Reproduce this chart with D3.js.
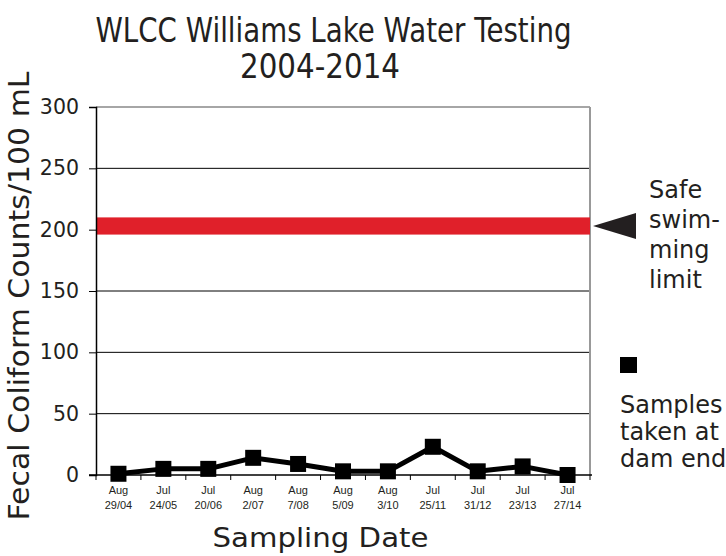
<!DOCTYPE html>
<html><head><meta charset="utf-8">
<script src="https://cdn.jsdelivr.net/npm/d3@7"></script>
<style>body{margin:0;background:#fff}svg{display:block}</style>
</head><body>
<script>
const dateMonths = ["Aug","Jul","Jul","Aug","Aug","Aug","Aug","Jul","Jul","Jul","Jul"];
const dateDays = ["29/04","24/05","20/06","2/07","7/08","5/09","3/10","25/11","31/12","23/13","27/14"];
const counts = [1, 5, 5, 14, 9, 3, 3, 23, 3, 7, 0];
const yTicks = [0, 50, 100, 150, 200, 250, 300];
const safeLimit = [196, 210];

const W = 726, H = 556;
const m = {left: 96, right: 136, top: 107, bottom: 81};
const svg = d3.select("body").append("svg").attr("width", W).attr("height", H);
const x = d3.scaleBand().domain(d3.range(counts.length)).range([m.left, W - m.right]).padding(0);
const y = d3.scaleLinear().domain([0, 300]).range([H - m.bottom, m.top]);
const font = "DejaVu Sans, Verdana, sans-serif";
const ink = "#231f20";

// gridlines
svg.append("g").selectAll("line").data(yTicks.filter(d => d > 0 && d < 300)).join("line")
  .attr("x1", m.left).attr("x2", W - m.right).attr("y1", d => y(d)).attr("y2", d => y(d))
  .attr("stroke", "#000").attr("stroke-width", 1);
// top & right border
svg.append("line").attr("x1", m.left).attr("x2", W - m.right).attr("y1", y(300)).attr("y2", y(300)).attr("stroke", "#888").attr("stroke-width", 1.5);
svg.append("line").attr("x1", W - m.right).attr("x2", W - m.right).attr("y1", y(300)).attr("y2", y(0)).attr("stroke", "#999").attr("stroke-width", 2);

// safe band
svg.append("rect").attr("x", m.left).attr("width", W - m.right - m.left)
  .attr("y", y(safeLimit[1])).attr("height", y(safeLimit[0]) - y(safeLimit[1])).attr("fill", "#e0202a");

// y axis
const yAxis = svg.append("g").attr("transform", `translate(${m.left},0)`)
  .call(d3.axisLeft(y).tickValues(yTicks).tickSize(7).tickPadding(10));
yAxis.select(".domain").attr("stroke", "#000").attr("stroke-width", 1.5);
yAxis.selectAll(".tick line").attr("stroke", "#000");
yAxis.selectAll("text").attr("font-family", font).attr("font-size", 20.5).attr("fill", ink);

// x axis
const xAxis = svg.append("g").attr("transform", `translate(0,${y(0)})`)
  .call(d3.axisBottom(x).tickSize(0).tickFormat(""));
xAxis.select(".domain").attr("stroke", "#000").attr("stroke-width", 1.5).attr("d", `M${m.left - 7},0H${W - m.right + 2}`);
svg.append("g").selectAll("line").data(d3.range(counts.length + 1)).join("line")
  .attr("x1", i => m.left + i * x.bandwidth()).attr("x2", i => m.left + i * x.bandwidth())
  .attr("y1", y(0)).attr("y2", y(0) + 5).attr("stroke", "#000");
const labs = svg.append("g").selectAll("text").data(counts.map((d, i) => i)).join("text")
  .attr("x", i => x(i) + x.bandwidth() / 2).attr("text-anchor", "middle")
  .attr("font-family", "Liberation Sans, Arial, sans-serif").attr("font-size", 11).attr("fill", ink);
labs.append("tspan").attr("x", i => x(i) + x.bandwidth() / 2).attr("y", 494).text(i => dateMonths[i]);
labs.append("tspan").attr("x", i => x(i) + x.bandwidth() / 2).attr("y", 508.5).text(i => dateDays[i]);

// line & markers
const line = d3.line().x((d, i) => x(i) + x.bandwidth() / 2).y(d => y(d));
svg.append("path").datum(counts).attr("d", line).attr("fill", "none").attr("stroke", "#000").attr("stroke-width", 5).attr("stroke-linejoin", "round");
svg.append("g").selectAll("rect").data(counts).join("rect")
  .attr("x", (d, i) => x(i) + x.bandwidth() / 2 - 8).attr("y", d => y(d) - 8)
  .attr("width", 16).attr("height", 16).attr("fill", "#000");

// titles
function txt(s, cx, by, size, len) {
  return svg.append("text").attr("x", cx).attr("y", by).attr("text-anchor", "middle")
    .attr("font-family", font).attr("font-size", size).attr("fill", ink)
    .attr("textLength", len).attr("lengthAdjust", "spacingAndGlyphs").text(s);
}
txt("WLCC Williams Lake Water Testing", 333.5, 41.5, 34, 476);
txt("2004-2014", 320, 78, 34, 160);
txt("Sampling Date", 320.5, 547, 26.5, 216);
svg.append("text").attr("transform", `translate(29,296) rotate(-90)`).attr("text-anchor", "middle")
  .attr("font-family", font).attr("font-size", 28).attr("fill", ink)
  .attr("textLength", 449).attr("lengthAdjust", "spacingAndGlyphs").text("Fecal Coliform Counts/100 mL");

// annotation arrow
const ay = y((safeLimit[0] + safeLimit[1]) / 2);
svg.append("path").attr("d", `M${W - m.right + 3},${ay}L${W - m.right + 46},${ay - 13}L${W - m.right + 46},${ay + 13}Z`).attr("fill", ink);
const safe = svg.append("text").attr("font-family", font).attr("font-size", 24).attr("fill", ink);
["Safe", "swim-", "ming", "limit"].forEach((t, i) => safe.append("tspan").attr("x", 649).attr("y", 198 + i * 30).text(t));

// legend
svg.append("rect").attr("x", 620).attr("y", 357).attr("width", 17).attr("height", 16).attr("fill", "#000");
const leg = svg.append("text").attr("font-family", font).attr("font-size", 24).attr("fill", ink);
["Samples", "taken at", "dam end"].forEach((t, i) => leg.append("tspan").attr("x", 620).attr("y", 413 + i * 27).text(t));
</script>
</body></html>
